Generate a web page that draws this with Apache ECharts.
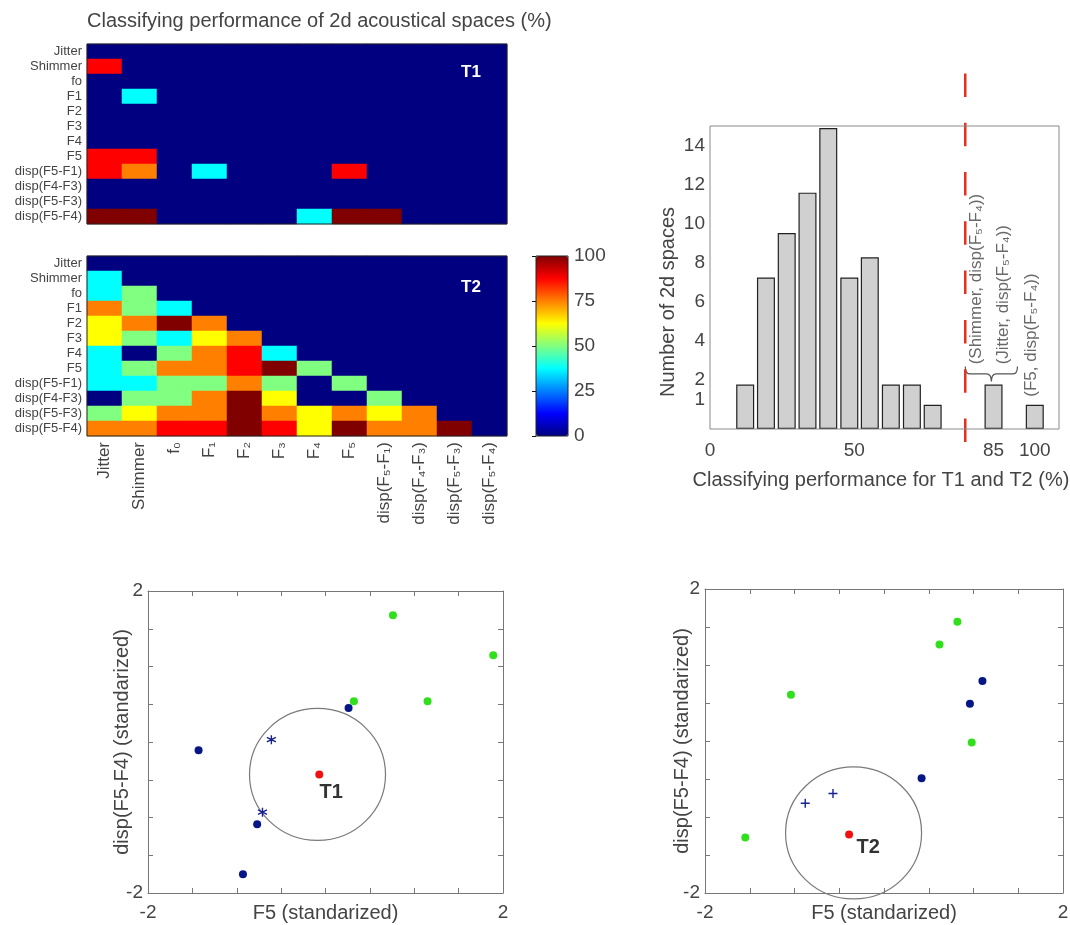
<!DOCTYPE html>
<html><head><meta charset="utf-8">
<script src="https://cdn.jsdelivr.net/npm/echarts@6/dist/echarts.min.js"></script>
<style>html,body{margin:0;padding:0;background:#fff}#c{width:1070px;height:925px}</style>
</head><body><div id="c"></div><script>
const FONT = "'Liberation Sans', Arial, 'DejaVu Sans', sans-serif";
const TXT = '#444';

// ---- heatmap data ----
const rowLabels = ['Jitter','Shimmer','fo','F1','F2','F3','F4','F5','disp(F5-F1)','disp(F4-F3)','disp(F5-F3)','disp(F5-F4)'];
const colLabels = ['Jitter','Shimmer','f₀','F₁','F₂','F₃','F₄','F₅','disp(F₅-F₁)','disp(F₄-F₃)','disp(F₅-F₃)','disp(F₅-F₄)'];
const t1Rows = [
  [0,0,0,0,0,0,0,0,0,0,0,0],
  [87.5,0,0,0,0,0,0,0,0,0,0,0],
  [0,0,0,0,0,0,0,0,0,0,0,0],
  [0,37.5,0,0,0,0,0,0,0,0,0,0],
  [0,0,0,0,0,0,0,0,0,0,0,0],
  [0,0,0,0,0,0,0,0,0,0,0,0],
  [0,0,0,0,0,0,0,0,0,0,0,0],
  [87.5,87.5,0,0,0,0,0,0,0,0,0,0],
  [87.5,75,0,37.5,0,0,0,87.5,0,0,0,0],
  [0,0,0,0,0,0,0,0,0,0,0,0],
  [0,0,0,0,0,0,0,0,0,0,0,0],
  [100,100,0,0,0,0,37.5,100,100,0,0,0]
];
const t2Rows = [
  [0,0,0,0,0,0,0,0,0,0,0,0],
  [37.5,0,0,0,0,0,0,0,0,0,0,0],
  [37.5,50,0,0,0,0,0,0,0,0,0,0],
  [75,50,37.5,0,0,0,0,0,0,0,0,0],
  [62.5,75,100,75,0,0,0,0,0,0,0,0],
  [62.5,50,37.5,62.5,75,0,0,0,0,0,0,0],
  [37.5,0,50,75,87.5,37.5,0,0,0,0,0,0],
  [37.5,50,75,75,87.5,100,50,0,0,0,0,0],
  [37.5,37.5,50,50,75,50,0,50,0,0,0,0],
  [0,50,50,75,100,62.5,0,0,50,0,0,0],
  [50,62.5,75,75,100,75,62.5,75,62.5,75,0,0],
  [75,75,87.5,87.5,100,87.5,62.5,100,75,75,100,0]
];
const jetColors = ['#000080','#0000ff','#0080ff','#00ffff','#80ff80','#ffff00','#ff8000','#ff0000','#800000'];

// ---- histogram data ----
const histBinCenters = [12.2,19.4,26.6,33.8,41.0,48.3,55.4,62.7,70.0,77.2,98.3,112.6];
const histCounts = [2.2,7.5,9.7,11.7,14.9,7.5,8.5,2.2,2.2,1.2,2.2,1.2];
const histXTickValues = [0,50,98.3,112.6];
const histXTickLabels = ['0','50','85','100'];
const histYTickValues = [1,2,4,6,8,10,12,14];
const thresholdX = 88.5;
const annX = [92.4,101.6,111.5];
const annY = [3.2,3.2,1.6];
const annText = ['(Shimmer, disp(F₅-F₄))','(Jitter, disp(F₅-F₄))','(F5, disp(F₅-F₄))'];
const braceX = [88.5,106.6];
const braceY = [3.1,2.35];

// ---- scatter data ----
const t1Green = [[0.76,1.68],[1.89,1.15],[0.32,0.54],[1.15,0.54]];
const t1Blue = [[0.26,0.45],[-1.43,-0.11],[-0.77,-1.09],[-0.93,-1.75]];
const t1Star = [[-0.61,0.03],[-0.71,-0.93]];
const t1Target = [[-0.07,-0.43]];
const t1Circle = [[-0.09,-0.43]];
const t2Green = [[0.82,1.57],[0.62,1.27],[-1.04,0.61],[0.98,-0.02],[-1.55,-1.27]];
const t2Blue = [[1.10,0.79],[0.96,0.49],[0.42,-0.49]];
const t2Plus = [[-0.88,-0.82],[-0.57,-0.69]];
const t2Target = [[-0.39,-1.23]];
const t2Circle = [[-0.34,-1.21]];

function heatCells(rows){ const d=[]; rows.forEach((r,i)=>r.forEach((v,j)=>d.push([j,i,v]))); return d; }

function heatX(gi, showLabels){
  return {gridIndex:gi, type:'category', data:colLabels, position:'bottom',
    axisLine:{show:false}, splitLine:{show:false},
    axisTick:{show:true, inside:true, length:4, alignWithLabel:true, lineStyle:{color:'#111'}},
    axisLabel:{show:showLabels, rotate:90, interval:0, fontSize:17, color:TXT, margin:6, fontFamily:FONT}};
}
function heatXTop(gi){
  return {gridIndex:gi, type:'category', data:colLabels, position:'top',
    axisLine:{show:false}, splitLine:{show:false}, axisLabel:{show:false},
    axisTick:{show:true, inside:true, length:4, alignWithLabel:true, lineStyle:{color:'#111'}}};
}
function heatY(gi){
  return {gridIndex:gi, type:'category', data:rowLabels, inverse:true, position:'left',
    axisLine:{show:false}, splitLine:{show:false},
    axisTick:{show:true, inside:true, length:4, alignWithLabel:true, lineStyle:{color:'#111'}},
    axisLabel:{fontSize:13, color:TXT, margin:5, interval:0, fontFamily:FONT}};
}
function heatYRight(gi){
  return {gridIndex:gi, type:'category', data:rowLabels, inverse:true, position:'right',
    axisLine:{show:false}, splitLine:{show:false}, axisLabel:{show:false},
    axisTick:{show:true, inside:true, length:4, alignWithLabel:true, lineStyle:{color:'#111'}}};
}
function endLabel(v){ return (Math.abs(v-2)<1e-9 || Math.abs(v+2)<1e-9) ? String(v) : ''; }
function sx(gi, pos, name){
  return {gridIndex:gi, type:'value', min:-2, max:2, interval:0.5, position:pos,
    name:name, nameLocation:'middle', nameGap:10, nameMoveOverlap:false,
    nameTextStyle:{fontSize:20, color:TXT, fontFamily:FONT},
    axisLine:{show:true, onZero:false, lineStyle:{color:'#777'}},
    axisTick:{show:true, inside:true, length:5, lineStyle:{color:'#777'}},
    axisLabel:{show:pos==='bottom', fontSize:19, color:TXT, margin:10, fontFamily:FONT, formatter:endLabel, showMinLabel:true, showMaxLabel:true},
    splitLine:{show:false}};
}
function sy(gi, pos, name, gap){
  return {gridIndex:gi, type:'value', min:-2, max:2, interval:0.5, position:pos,
    name:name, nameLocation:'middle', nameGap:gap, nameMoveOverlap:false,
    nameTextStyle:{fontSize:20, color:TXT, fontFamily:FONT},
    axisLine:{show:true, onZero:false, lineStyle:{color:'#777'}},
    axisTick:{show:true, inside:true, length:5, lineStyle:{color:'#777'}},
    axisLabel:{show:pos==='left', fontSize:19, color:TXT, margin:5, fontFamily:FONT, formatter:endLabel, showMinLabel:true, showMaxLabel:true},
    splitLine:{show:false}};
}
const starPath = 'path://M0,-10L0,10M-8.66,-5L8.66,5M-8.66,5L8.66,-5';
const plusPath = 'path://M0,-10L0,10M-10,0L10,0';
function scatterSet(xi, yi, green, blue, marks, markPath, target, circle, tLabel, tOffset){
  return [
    {type:'scatter', xAxisIndex:xi, yAxisIndex:yi, data:circle, symbol:'circle', symbolSize:[136,132],
      itemStyle:{color:'rgba(0,0,0,0)', borderColor:'#7a7a7a', borderWidth:1.2, opacity:1}, silent:true, z:2},
    {type:'scatter', xAxisIndex:xi, yAxisIndex:yi, data:green, symbolSize:8, itemStyle:{color:'#30e01c', opacity:1}, z:3},
    {type:'scatter', xAxisIndex:xi, yAxisIndex:yi, data:blue, symbolSize:8, itemStyle:{color:'#061685', opacity:1}, z:4},
    {type:'scatter', xAxisIndex:xi, yAxisIndex:yi, data:marks, symbol:markPath, symbolSize:[9,9],
      itemStyle:{color:'rgba(0,0,0,0)', borderColor:'#16238f', borderWidth:1.4, opacity:1}, z:4},
    {type:'scatter', xAxisIndex:xi, yAxisIndex:yi, data:target, symbolSize:8, itemStyle:{color:'#f01010', opacity:1}, z:5,
      label:{show:true, formatter:tLabel, position:'inside', offset:tOffset, fontSize:20, fontWeight:'bold', color:'#333', fontFamily:FONT}}
  ];
}
const NB = {outerBoundsMode:'none', containLabel:false};

const option = {
  animation:false,
  backgroundColor:'#fff',
  textStyle:{fontFamily:FONT},
  title:[
    {text:'Classifying performance of 2d acoustical spaces (%)', left:87, top:11, padding:0,
      textStyle:{fontSize:20, fontWeight:'normal', color:TXT, fontFamily:FONT}},
    {text:'T1', left:461, top:64, padding:0, textStyle:{fontSize:17, fontWeight:'bold', color:'#fff', fontFamily:FONT}},
    {text:'T2', left:461, top:279, padding:0, textStyle:{fontSize:17, fontWeight:'bold', color:'#fff', fontFamily:FONT}}
  ],
  visualMap:{type:'continuous', min:0, max:100, seriesIndex:[0,1], calculable:false, show:true,
    left:536, top:256, itemWidth:32, itemHeight:180, padding:0, text:null, showLabel:false, hoverLink:false,
    inRange:{color:jetColors}},
  grid:[
    Object.assign({left:87, top:44, width:420, height:180, show:true, borderColor:'#222', borderWidth:1, z:10}, NB),
    Object.assign({left:87, top:256, width:420, height:180, show:true, borderColor:'#222', borderWidth:1, z:10}, NB),
    Object.assign({left:536, top:256, width:32, height:180, show:true, borderColor:'#222', borderWidth:1, z:10}, NB),
    Object.assign({left:710, top:126, width:349, height:303, show:true, borderColor:'#8a8a8a', borderWidth:1, z:10}, NB),
    Object.assign({left:710, top:72, width:349, height:370, show:false}, NB),
    Object.assign({left:148, top:591, width:355, height:302}, NB),
    Object.assign({left:705, top:589, width:358, height:304}, NB)
  ],
  xAxis:[
    heatX(0,false),
    heatX(1,true),
    {gridIndex:2, type:'value', min:0, max:1, show:false},
    {gridIndex:3, type:'value', min:0, max:121, position:'bottom',
      axisLine:{show:false, onZero:false}, axisTick:{show:false}, splitLine:{show:false},
      axisLabel:{customValues:histXTickValues, fontSize:19, color:TXT, margin:12, fontFamily:FONT,
        formatter:v=>{let b=0;histXTickValues.forEach((t,i)=>{if(Math.abs(t-v)<Math.abs(histXTickValues[b]-v))b=i;});return histXTickLabels[b];}},
      name:'Classifying performance for T1 and T2 (%)', nameLocation:'middle', nameGap:41, nameMoveOverlap:false,
      nameTextStyle:{fontSize:20, color:TXT, fontFamily:FONT, padding:[0,7,0,0]}},
    {gridIndex:4, type:'value', min:0, max:121, show:false},
    sx(5,'bottom','F5 (standarized)'),
    sx(5,'top',''),
    sx(6,'bottom','F5 (standarized)'),
    sx(6,'top',''),
    heatXTop(0),
    heatXTop(1)
  ],
  yAxis:[
    heatY(0),
    heatY(1),
    {gridIndex:2, type:'value', min:0, max:100, interval:25, position:'right',
      axisLine:{show:false}, splitLine:{show:false},
      axisTick:{show:true, inside:true, length:4, lineStyle:{color:'#111'}},
      axisLabel:{fontSize:19, color:TXT, margin:6, fontFamily:FONT}},
    {gridIndex:3, type:'value', min:0, max:15, show:false, position:'right'},
    {gridIndex:3, type:'value', min:-0.5, max:15, position:'left',
      axisLine:{show:false, onZero:false}, axisTick:{show:false}, splitLine:{show:false},
      axisLabel:{customValues:histYTickValues, fontSize:19, color:TXT, margin:5, fontFamily:FONT},
      name:'Number of 2d spaces', nameLocation:'middle', nameGap:32, nameMoveOverlap:false,
      nameTextStyle:{fontSize:20, color:TXT, fontFamily:FONT, padding:[0,49,0,0]}},
    {gridIndex:4, type:'value', min:0, max:1, show:false},
    sy(5,'left','disp(F5-F4) (standarized)',16),
    sy(5,'right','',0),
    sy(6,'left','disp(F5-F4) (standarized)',13),
    sy(6,'right','',0),
    heatYRight(0),
    heatYRight(1)
  ],
  series:[
    {type:'heatmap', xAxisIndex:0, yAxisIndex:0, data:heatCells(t1Rows), emphasis:{disabled:true}},
    {type:'heatmap', xAxisIndex:1, yAxisIndex:1, data:heatCells(t2Rows), emphasis:{disabled:true}},
    {type:'bar', xAxisIndex:3, yAxisIndex:3, barWidth:18,
      data:histBinCenters.map((c,i)=>[c,histCounts[i]]),
      itemStyle:{color:'#d0d0d0', borderColor:'#222', borderWidth:1.2}},
    {type:'custom', xAxisIndex:3, yAxisIndex:3, clip:false, silent:true,
      data:[[braceX[0], braceX[1], braceY[0], braceY[1]]],
      renderItem:(params, api)=>{
        const a=api.coord([api.value(0), api.value(2)]);
        const b=api.coord([api.value(1), api.value(2)]);
        const tip=api.coord([(api.value(0)+api.value(1))/2, api.value(3)]);
        const L=a[0], R=b[0], T=a[1], M=tip[0], B=tip[1], mid=(T+B)/2, r=5;
        const p='M'+L+','+T+' Q'+L+','+mid+' '+(L+r)+','+mid+' L'+(M-r)+','+mid+' Q'+M+','+mid+' '+M+','+B+
          ' Q'+M+','+mid+' '+(M+r)+','+mid+' L'+(R-r)+','+mid+' Q'+R+','+mid+' '+R+','+T;
        return {type:'path', shape:{pathData:p}, style:{fill:null, stroke:'#555', lineWidth:1.2}};
      }},
    {type:'scatter', xAxisIndex:3, yAxisIndex:3, symbolSize:0, silent:true,
      data:annX.map((x,i)=>[x, annY[i], annText[i]]),
      label:{show:true, formatter:p=>p.data[2], rotate:90, position:[0,0], align:'left', verticalAlign:'middle',
        fontSize:17, color:TXT, fontFamily:FONT}},
    {type:'line', xAxisIndex:4, yAxisIndex:5, symbol:'none', silent:true,
      data:[[thresholdX,0],[thresholdX,1]],
      lineStyle:{color:'#e3301f', width:2.5, type:[23.5,25.8]}},
    ...scatterSet(5,6,t1Green,t1Blue,t1Star,starPath,t1Target,t1Circle,'T1',[12,18]),
    ...scatterSet(7,8,t2Green,t2Blue,t2Plus,plusPath,t2Target,t2Circle,'T2',[19,13])
  ]
};
const chart = echarts.init(document.getElementById('c'), null, {renderer:'canvas'});
chart.setOption(option);
</script></body></html>
